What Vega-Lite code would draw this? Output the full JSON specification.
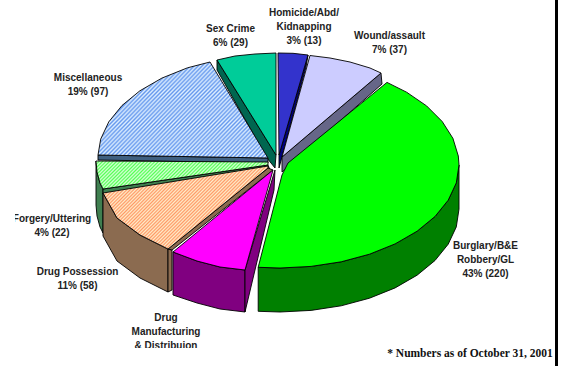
{
"$schema":"https://vega.github.io/schema/vega-lite/v6.json",
"width":562,"height":366,"padding":0,"autosize":"none","background":"white",
"config":{"view":{"stroke":null}},
"projection":{"type":"identity","scale":1,"translate":[280,165]},
"resolve":{"scale":{"fill":"independent"}},
"layer":[
{"data":{"values":[
{"type":"Feature","properties":{"part":"homicide side"},"geometry":{"type":"Polygon","coordinates":[[[28,-110],[-1,-10],[-1,3],[26,-98],[28,-110]]]}},
{"type":"Feature","properties":{"part":"homicide top"},"geometry":{"type":"Polygon","coordinates":[[[-2,-112],[13,-111.7],[28,-110],[-1,-10],[-2,-112]]]}},
{"type":"Feature","properties":{"part":"wound side"},"geometry":{"type":"Polygon","coordinates":[[[101,-92],[102,-81],[2,7],[2,-8],[101,-92]]]}},
{"type":"Feature","properties":{"part":"wound top"},"geometry":{"type":"Polygon","coordinates":[[[30,-109.5],[50,-107],[70,-103],[90,-97],[101,-92],[2,-8],[30,-109.5]]]}},
{"type":"Feature","properties":{"part":"sex side"},"geometry":{"type":"Polygon","coordinates":[[[-63,-105],[-63,-95],[-13,-7],[-5,3],[-4,-10],[-63,-105]]]}},
{"type":"Feature","properties":{"part":"sex top"},"geometry":{"type":"Polygon","coordinates":[[[-63,-105],[-45,-109],[-25,-111],[-4,-112],[-4,-10],[-63,-105]]]}},
{"type":"Feature","properties":{"part":"misc side"},"geometry":{"type":"Polygon","coordinates":[[[-182,-10],[-182,-5],[-12,-2],[-12,-7],[-182,-10]]]}},
{"type":"Feature","properties":{"part":"forgery side"},"geometry":{"type":"Polygon","coordinates":[[[-184,-4],[-184,40],[-183,51],[-180,62],[-177,68],[-177,24],[-180,18],[-183,7],[-184,-4]]]}},
{"type":"Feature","properties":{"part":"forgery side"},"geometry":{"type":"Polygon","coordinates":[[[-177,24],[-177,29],[-10,5],[-12,0],[-177,24]]]}},
{"type":"Feature","properties":{"part":"possession side"},"geometry":{"type":"Polygon","coordinates":[[[-177,28],[-163,53],[-140,70],[-112,84],[-112,127],[-140,113],[-163,96],[-177,71],[-177,28]]]}},
{"type":"Feature","properties":{"part":"possession side"},"geometry":{"type":"Polygon","coordinates":[[[-112,84],[-108,85],[-108,125],[-112,127],[-112,84]]]}},
{"type":"Feature","properties":{"part":"possession side"},"geometry":{"type":"Polygon","coordinates":[[[-112,84],[-108,85],[-7,5],[-12,3],[-112,84]]]}}
]},
"mark":{"type":"geoshape","stroke":"#000","strokeWidth":0.9},
"encoding":{"fill":{"field":"properties.part","type":"nominal","legend":null,"scale":{
"domain":["homicide side","homicide top","wound side","wound top","sex side","sex top","misc side","forgery side","possession side"],
"range":["#000080","#3333CC","#666688","#CCCCFF","#006650","#00CC99","#3F5F80","#3F7F50","#8B6B50"]}}}},
{"data":{"values":[{"type":"Feature","properties":{"part":"misc top"},"geometry":{"type":"Polygon","coordinates":[[[-182,-10],[-179.3,-25.9],[-171.2,-43.2],[-158,-59.5],[-140.1,-74.2],[-118.1,-86.9],[-92.5,-97.2],[-70,-103],[-12,-7],[-182,-10]]]}}]},
"mark":{"type":"geoshape","stroke":"#000","strokeWidth":0.9,"fill":
{"gradient":"linear","x1":0.2,"y1":0.366,"x2":1.106,"y2":0.861,"stops":[{"offset":0,"color":"#69E"},{"offset":0.01,"color":"#DEF"},{"offset":0.02,"color":"#69E"},{"offset":0.03,"color":"#DEF"},{"offset":0.04,"color":"#69E"},{"offset":0.05,"color":"#DEF"},{"offset":0.06,"color":"#69E"},{"offset":0.07,"color":"#DEF"},{"offset":0.08,"color":"#69E"},{"offset":0.09,"color":"#DEF"},{"offset":0.1,"color":"#69E"},{"offset":0.11,"color":"#DEF"},{"offset":0.12,"color":"#69E"},{"offset":0.13,"color":"#DEF"},{"offset":0.14,"color":"#69E"},{"offset":0.15,"color":"#DEF"},{"offset":0.16,"color":"#69E"},{"offset":0.17,"color":"#DEF"},{"offset":0.18,"color":"#69E"},{"offset":0.19,"color":"#DEF"},{"offset":0.2,"color":"#69E"},{"offset":0.21,"color":"#DEF"},{"offset":0.22,"color":"#69E"},{"offset":0.23,"color":"#DEF"},{"offset":0.24,"color":"#69E"},{"offset":0.25,"color":"#DEF"},{"offset":0.26,"color":"#69E"},{"offset":0.27,"color":"#DEF"},{"offset":0.28,"color":"#69E"},{"offset":0.29,"color":"#DEF"},{"offset":0.3,"color":"#69E"},{"offset":0.31,"color":"#DEF"},{"offset":0.32,"color":"#69E"},{"offset":0.33,"color":"#DEF"},{"offset":0.34,"color":"#69E"},{"offset":0.35,"color":"#DEF"},{"offset":0.36,"color":"#69E"},{"offset":0.37,"color":"#DEF"},{"offset":0.38,"color":"#69E"},{"offset":0.39,"color":"#DEF"},{"offset":0.4,"color":"#69E"},{"offset":0.41,"color":"#DEF"},{"offset":0.42,"color":"#69E"},{"offset":0.43,"color":"#DEF"},{"offset":0.44,"color":"#69E"},{"offset":0.45,"color":"#DEF"},{"offset":0.46,"color":"#69E"},{"offset":0.47,"color":"#DEF"},{"offset":0.48,"color":"#69E"},{"offset":0.49,"color":"#DEF"},{"offset":0.5,"color":"#69E"},{"offset":0.51,"color":"#DEF"},{"offset":0.52,"color":"#69E"},{"offset":0.53,"color":"#DEF"},{"offset":0.54,"color":"#69E"},{"offset":0.55,"color":"#DEF"},{"offset":0.56,"color":"#69E"},{"offset":0.57,"color":"#DEF"},{"offset":0.58,"color":"#69E"},{"offset":0.59,"color":"#DEF"},{"offset":0.6,"color":"#69E"},{"offset":0.61,"color":"#DEF"},{"offset":0.62,"color":"#69E"},{"offset":0.63,"color":"#DEF"},{"offset":0.64,"color":"#69E"},{"offset":0.65,"color":"#DEF"},{"offset":0.66,"color":"#69E"},{"offset":0.67,"color":"#DEF"},{"offset":0.68,"color":"#69E"},{"offset":0.69,"color":"#DEF"},{"offset":0.7,"color":"#69E"},{"offset":0.71,"color":"#DEF"},{"offset":0.72,"color":"#69E"},{"offset":0.73,"color":"#DEF"},{"offset":0.74,"color":"#69E"},{"offset":0.75,"color":"#DEF"},{"offset":0.76,"color":"#69E"},{"offset":0.77,"color":"#DEF"},{"offset":0.78,"color":"#69E"},{"offset":0.79,"color":"#DEF"},{"offset":0.8,"color":"#69E"},{"offset":0.81,"color":"#DEF"},{"offset":0.82,"color":"#69E"},{"offset":0.83,"color":"#DEF"},{"offset":0.84,"color":"#69E"},{"offset":0.85,"color":"#DEF"},{"offset":0.86,"color":"#69E"},{"offset":0.87,"color":"#DEF"},{"offset":0.88,"color":"#69E"},{"offset":0.89,"color":"#DEF"},{"offset":0.9,"color":"#69E"},{"offset":0.91,"color":"#DEF"},{"offset":0.92,"color":"#69E"},{"offset":0.93,"color":"#DEF"},{"offset":0.94,"color":"#69E"},{"offset":0.95,"color":"#DEF"},{"offset":0.96,"color":"#69E"},{"offset":0.97,"color":"#DEF"},{"offset":0.98,"color":"#69E"},{"offset":0.99,"color":"#DEF"},{"offset":1,"color":"#69E"}]}},"encoding":{}},
{"data":{"values":[{"type":"Feature","properties":{"part":"forgery top"},"geometry":{"type":"Polygon","coordinates":[[[-184,-4],[-183,7],[-180,18],[-177,24],[-12,0],[-12,-3],[-184,-4]]]}}]},
"mark":{"type":"geoshape","stroke":"#000","strokeWidth":0.9,"fill":
{"gradient":"linear","x1":0,"y1":0,"x2":0.991,"y2":0.161,"stops":[{"offset":0,"color":"#5F5"},{"offset":0.01,"color":"#DFD"},{"offset":0.02,"color":"#5F5"},{"offset":0.03,"color":"#DFD"},{"offset":0.04,"color":"#5F5"},{"offset":0.05,"color":"#DFD"},{"offset":0.06,"color":"#5F5"},{"offset":0.07,"color":"#DFD"},{"offset":0.08,"color":"#5F5"},{"offset":0.09,"color":"#DFD"},{"offset":0.1,"color":"#5F5"},{"offset":0.11,"color":"#DFD"},{"offset":0.12,"color":"#5F5"},{"offset":0.13,"color":"#DFD"},{"offset":0.14,"color":"#5F5"},{"offset":0.15,"color":"#DFD"},{"offset":0.16,"color":"#5F5"},{"offset":0.17,"color":"#DFD"},{"offset":0.18,"color":"#5F5"},{"offset":0.19,"color":"#DFD"},{"offset":0.2,"color":"#5F5"},{"offset":0.21,"color":"#DFD"},{"offset":0.22,"color":"#5F5"},{"offset":0.23,"color":"#DFD"},{"offset":0.24,"color":"#5F5"},{"offset":0.25,"color":"#DFD"},{"offset":0.26,"color":"#5F5"},{"offset":0.27,"color":"#DFD"},{"offset":0.28,"color":"#5F5"},{"offset":0.29,"color":"#DFD"},{"offset":0.3,"color":"#5F5"},{"offset":0.31,"color":"#DFD"},{"offset":0.32,"color":"#5F5"},{"offset":0.33,"color":"#DFD"},{"offset":0.34,"color":"#5F5"},{"offset":0.35,"color":"#DFD"},{"offset":0.36,"color":"#5F5"},{"offset":0.37,"color":"#DFD"},{"offset":0.38,"color":"#5F5"},{"offset":0.39,"color":"#DFD"},{"offset":0.4,"color":"#5F5"},{"offset":0.41,"color":"#DFD"},{"offset":0.42,"color":"#5F5"},{"offset":0.43,"color":"#DFD"},{"offset":0.44,"color":"#5F5"},{"offset":0.45,"color":"#DFD"},{"offset":0.46,"color":"#5F5"},{"offset":0.47,"color":"#DFD"},{"offset":0.48,"color":"#5F5"},{"offset":0.49,"color":"#DFD"},{"offset":0.5,"color":"#5F5"},{"offset":0.51,"color":"#DFD"},{"offset":0.52,"color":"#5F5"},{"offset":0.53,"color":"#DFD"},{"offset":0.54,"color":"#5F5"},{"offset":0.55,"color":"#DFD"},{"offset":0.56,"color":"#5F5"},{"offset":0.57,"color":"#DFD"},{"offset":0.58,"color":"#5F5"},{"offset":0.59,"color":"#DFD"},{"offset":0.6,"color":"#5F5"},{"offset":0.61,"color":"#DFD"},{"offset":0.62,"color":"#5F5"},{"offset":0.63,"color":"#DFD"},{"offset":0.64,"color":"#5F5"},{"offset":0.65,"color":"#DFD"},{"offset":0.66,"color":"#5F5"},{"offset":0.67,"color":"#DFD"},{"offset":0.68,"color":"#5F5"},{"offset":0.69,"color":"#DFD"},{"offset":0.7,"color":"#5F5"},{"offset":0.71,"color":"#DFD"},{"offset":0.72,"color":"#5F5"},{"offset":0.73,"color":"#DFD"},{"offset":0.74,"color":"#5F5"},{"offset":0.75,"color":"#DFD"},{"offset":0.76,"color":"#5F5"},{"offset":0.77,"color":"#DFD"},{"offset":0.78,"color":"#5F5"},{"offset":0.79,"color":"#DFD"},{"offset":0.8,"color":"#5F5"},{"offset":0.81,"color":"#DFD"},{"offset":0.82,"color":"#5F5"},{"offset":0.83,"color":"#DFD"},{"offset":0.84,"color":"#5F5"},{"offset":0.85,"color":"#DFD"},{"offset":0.86,"color":"#5F5"},{"offset":0.87,"color":"#DFD"},{"offset":0.88,"color":"#5F5"},{"offset":0.89,"color":"#DFD"},{"offset":0.9,"color":"#5F5"},{"offset":0.91,"color":"#DFD"},{"offset":0.92,"color":"#5F5"},{"offset":0.93,"color":"#DFD"},{"offset":0.94,"color":"#5F5"},{"offset":0.95,"color":"#DFD"},{"offset":0.96,"color":"#5F5"},{"offset":0.97,"color":"#DFD"},{"offset":0.98,"color":"#5F5"},{"offset":0.99,"color":"#DFD"},{"offset":1,"color":"#5F5"}]}},"encoding":{}},
{"data":{"values":[{"type":"Feature","properties":{"part":"possession top"},"geometry":{"type":"Polygon","coordinates":[[[-177,28],[-163,53],[-140,70],[-112,84],[-12,3],[-12,1],[-177,28]]]}}]},
"mark":{"type":"geoshape","stroke":"#000","strokeWidth":0.9,"fill":
{"gradient":"linear","x1":0,"y1":0,"x2":0.822,"y2":0.413,"stops":[{"offset":0,"color":"#F96"},{"offset":0.01,"color":"#FEC"},{"offset":0.02,"color":"#F96"},{"offset":0.03,"color":"#FEC"},{"offset":0.04,"color":"#F96"},{"offset":0.05,"color":"#FEC"},{"offset":0.06,"color":"#F96"},{"offset":0.07,"color":"#FEC"},{"offset":0.08,"color":"#F96"},{"offset":0.09,"color":"#FEC"},{"offset":0.1,"color":"#F96"},{"offset":0.11,"color":"#FEC"},{"offset":0.12,"color":"#F96"},{"offset":0.13,"color":"#FEC"},{"offset":0.14,"color":"#F96"},{"offset":0.15,"color":"#FEC"},{"offset":0.16,"color":"#F96"},{"offset":0.17,"color":"#FEC"},{"offset":0.18,"color":"#F96"},{"offset":0.19,"color":"#FEC"},{"offset":0.2,"color":"#F96"},{"offset":0.21,"color":"#FEC"},{"offset":0.22,"color":"#F96"},{"offset":0.23,"color":"#FEC"},{"offset":0.24,"color":"#F96"},{"offset":0.25,"color":"#FEC"},{"offset":0.26,"color":"#F96"},{"offset":0.27,"color":"#FEC"},{"offset":0.28,"color":"#F96"},{"offset":0.29,"color":"#FEC"},{"offset":0.3,"color":"#F96"},{"offset":0.31,"color":"#FEC"},{"offset":0.32,"color":"#F96"},{"offset":0.33,"color":"#FEC"},{"offset":0.34,"color":"#F96"},{"offset":0.35,"color":"#FEC"},{"offset":0.36,"color":"#F96"},{"offset":0.37,"color":"#FEC"},{"offset":0.38,"color":"#F96"},{"offset":0.39,"color":"#FEC"},{"offset":0.4,"color":"#F96"},{"offset":0.41,"color":"#FEC"},{"offset":0.42,"color":"#F96"},{"offset":0.43,"color":"#FEC"},{"offset":0.44,"color":"#F96"},{"offset":0.45,"color":"#FEC"},{"offset":0.46,"color":"#F96"},{"offset":0.47,"color":"#FEC"},{"offset":0.48,"color":"#F96"},{"offset":0.49,"color":"#FEC"},{"offset":0.5,"color":"#F96"},{"offset":0.51,"color":"#FEC"},{"offset":0.52,"color":"#F96"},{"offset":0.53,"color":"#FEC"},{"offset":0.54,"color":"#F96"},{"offset":0.55,"color":"#FEC"},{"offset":0.56,"color":"#F96"},{"offset":0.57,"color":"#FEC"},{"offset":0.58,"color":"#F96"},{"offset":0.59,"color":"#FEC"},{"offset":0.6,"color":"#F96"},{"offset":0.61,"color":"#FEC"},{"offset":0.62,"color":"#F96"},{"offset":0.63,"color":"#FEC"},{"offset":0.64,"color":"#F96"},{"offset":0.65,"color":"#FEC"},{"offset":0.66,"color":"#F96"},{"offset":0.67,"color":"#FEC"},{"offset":0.68,"color":"#F96"},{"offset":0.69,"color":"#FEC"},{"offset":0.7,"color":"#F96"},{"offset":0.71,"color":"#FEC"},{"offset":0.72,"color":"#F96"},{"offset":0.73,"color":"#FEC"},{"offset":0.74,"color":"#F96"},{"offset":0.75,"color":"#FEC"},{"offset":0.76,"color":"#F96"},{"offset":0.77,"color":"#FEC"},{"offset":0.78,"color":"#F96"},{"offset":0.79,"color":"#FEC"},{"offset":0.8,"color":"#F96"},{"offset":0.81,"color":"#FEC"},{"offset":0.82,"color":"#F96"},{"offset":0.83,"color":"#FEC"},{"offset":0.84,"color":"#F96"},{"offset":0.85,"color":"#FEC"},{"offset":0.86,"color":"#F96"},{"offset":0.87,"color":"#FEC"},{"offset":0.88,"color":"#F96"},{"offset":0.89,"color":"#FEC"},{"offset":0.9,"color":"#F96"},{"offset":0.91,"color":"#FEC"},{"offset":0.92,"color":"#F96"},{"offset":0.93,"color":"#FEC"},{"offset":0.94,"color":"#F96"},{"offset":0.95,"color":"#FEC"},{"offset":0.96,"color":"#F96"},{"offset":0.97,"color":"#FEC"},{"offset":0.98,"color":"#F96"},{"offset":0.99,"color":"#FEC"},{"offset":1,"color":"#F96"}]}},"encoding":{}},
{"data":{"values":[
{"type":"Feature","properties":{"part":"manufacturing side"},"geometry":{"type":"Polygon","coordinates":[[[-107,87],[-83,96],[-60,102],[-35,105],[-35,147],[-60,144],[-83,138],[-107,130],[-107,87]]]}},
{"type":"Feature","properties":{"part":"manufacturing side"},"geometry":{"type":"Polygon","coordinates":[[[-35,105],[-35,147],[-6,25],[-5,5],[-35,105]]]}},
{"type":"Feature","properties":{"part":"manufacturing top"},"geometry":{"type":"Polygon","coordinates":[[[-107,87],[-83,96],[-60,102],[-35,105],[-7,5],[-107,87]]]}},
{"type":"Feature","properties":{"part":"burglary side"},"geometry":{"type":"Polygon","coordinates":[[[179,0],[179,44],[176.3,61.9],[168.2,79.2],[155,95.5],[137.1,110.2],[115.1,122.9],[89.5,133.2],[61.2,140.8],[31.1,145.4],[0,147],[-21.8,146.3],[-21.8,102.3],[0,103],[31.1,101.4],[61.2,96.8],[89.5,89.2],[115.1,78.9],[137.1,66.2],[155,51.5],[168.2,35.2],[176.3,17.9],[179,0]]]}},
{"type":"Feature","properties":{"part":"burglary top"},"geometry":{"type":"Polygon","coordinates":[[[107,-82.6],[126.6,-72.8],[146.6,-59.1],[162.2,-43.5],[172.9,-26.7],[178.3,-9],[179,0],[176.3,17.9],[168.2,35.2],[155,51.5],[137.1,66.2],[115.1,78.9],[89.5,89.2],[61.2,96.8],[31.1,101.4],[0,103],[-21.8,102.3],[2,10],[8,-2],[107,-82.6]]]}}
]},
"mark":{"type":"geoshape","stroke":"#000","strokeWidth":0.9},
"encoding":{"fill":{"field":"properties.part","type":"nominal","legend":null,"scale":{
"domain":["manufacturing side","manufacturing top","burglary side","burglary top"],
"range":["#800080","#FF00FF","#008000","#00FF00"]}}}},
{"data":{"values":[
{"label":"Homicide/Abd/\nKidnapping\n3% (13)","count":13,"percent":3,"cx":24,"cy":-152},
{"label":"Wound/assault\n7% (37)","count":37,"percent":7,"cx":109.5,"cy":-129},
{"label":"Burglary/B&E\nRobbery/GL\n43% (220)","count":220,"percent":43,"cx":205.5,"cy":81},
{"label":"Drug\nManufacturing\n& Distribuion","count":null,"percent":null,"cx":-114,"cy":153},
{"label":"Drug Possession\n11% (58)","count":58,"percent":11,"cx":-202.5,"cy":107},
{"label":"Forgery/Uttering\n4% (22)","count":22,"percent":4,"cx":-228,"cy":54},
{"label":"Miscellaneous\n19% (97)","count":97,"percent":19,"cx":-192,"cy":-87},
{"label":"Sex Crime\n6% (29)","count":29,"percent":6,"cx":-49.5,"cy":-136}
]},
"mark":{"type":"text","font":"Liberation Sans","fontWeight":"bold","fontSize":10,"lineBreak":"\n","lineHeight":14,"align":"center","baseline":"middle","fill":"#222"},
"encoding":{"longitude":{"field":"cx","type":"quantitative"},"latitude":{"field":"cy","type":"quantitative"},"text":{"field":"label","type":"nominal"}}},
{"data":{"values":[
{"note":"* Numbers as of October 31, 2001","cx":190,"cy":188.5}
]},
"mark":{"type":"text","font":"Liberation Serif","fontWeight":"bold","fontSize":11.5,"align":"center","baseline":"middle","fill":"#111"},
"encoding":{"longitude":{"field":"cx","type":"quantitative"},"latitude":{"field":"cy","type":"quantitative"},"text":{"field":"note","type":"nominal"}}},
{"data":{"values":[
{"type":"Feature","properties":{"part":"left crop"},"geometry":{"type":"Polygon","coordinates":[[[-280,40],[-265,40],[-265,70],[-280,70],[-280,40]]]}},
{"type":"Feature","properties":{"part":"bottom crop"},"geometry":{"type":"Polygon","coordinates":[[[-170,183],[-60,183],[-60,201],[-170,201],[-170,183]]]}}
]},
"mark":{"type":"geoshape","fill":"white","stroke":null},"encoding":{}},
{"data":{"values":[
{"type":"Feature","properties":{"part":"frame"},"geometry":{"type":"Polygon","coordinates":[[[275,-165],[278,-165],[278,201],[275,201],[275,-165]]]}}
]},
"mark":{"type":"geoshape","fill":"black","stroke":null},"encoding":{}}
]}
